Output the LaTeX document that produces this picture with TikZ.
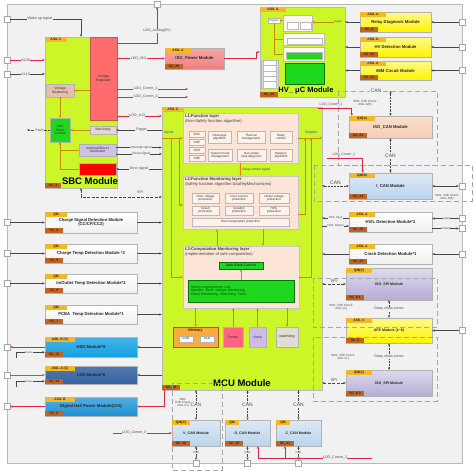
\documentclass[tikz,border=0pt]{standalone}
\usepackage{fontspec}
\setmainfont{Liberation Sans}
\usetikzlibrary{arrows.meta,calc}
\definecolor{lime}{RGB}{204,246,40}
\definecolor{asilc}{RGB}{242,184,40}
\definecolor{scc}{RGB}{196,98,32}
\definecolor{bgc}{RGB}{241,241,241}
\definecolor{framec}{RGB}{185,185,185}
\definecolor{peach}{RGB}{248,203,178}
\definecolor{lpeach}{RGB}{252,229,214}
\definecolor{lav}{RGB}{182,172,214}
\definecolor{lblue}{RGB}{186,212,236}
\definecolor{ylw}{RGB}{255,243,0}
\definecolor{hsdc}{RGB}{22,160,226}
\definecolor{lsdc}{RGB}{52,98,160}
\definecolor{digc}{RGB}{28,146,214}
\definecolor{ldoc}{RGB}{222,38,64}
\definecolor{orgc}{RGB}{204,136,0}
\definecolor{grnc}{RGB}{30,215,30}
\definecolor{vregc}{RGB}{255,108,108}
\definecolor{vmonc}{RGB}{232,190,172}
\definecolor{wdgc}{RGB}{228,214,214}
\definecolor{irgc}{RGB}{204,194,232}
\definecolor{txtb}{RGB}{70,60,160}
\definecolor{isopc}{RGB}{240,128,128}
\definecolor{memc}{RGB}{247,172,60}
\definecolor{pwrc}{RGB}{255,100,128}
\definecolor{clkc}{RGB}{204,186,232}
\definecolor{wdmc}{RGB}{222,222,212}
\newcommand\myfs[1]{\fontsize{#1}{#1}\selectfont}
\newcommand\bx[7]{\node[#6,minimum width={(#4)-(#2)},minimum height={(#5)-(#3)}] (#1) at ({((#2)+(#4))/2},{((#3)+(#5))/2}) {#7};}
\newcommand\asl[3][26]{\node[asl,minimum width=#1,anchor=north west] (#2a) at (#2.north west) {#3};}
\newcommand\scl[3][18]{\node[scl,minimum width=#1,anchor=south west] (#2s) at (#2.south west) {#3};}
\tikzset{
  asl/.style={fill=asilc,inner sep=0pt,minimum height=4.6,font=\myfs{3.4}\bfseries,text=black!85},
  scl/.style={fill=scc,inner sep=0pt,minimum height=4.6,font=\myfs{3.4}\bfseries,text=black!85},
  grp/.style={fill=lime,draw=gray!55,line width=0.4},
  modw/.style={draw=gray!60,top color=white,bottom color=gray!12,inner sep=0.3pt,align=center,font=\myfs{4.2}\bfseries,text=black!85},
  mody/.style={modw,draw=gray!60,top color=ylw!45!white,bottom color=ylw},
  modp/.style={modw,top color=isopc!70!white,bottom color=isopc},
  modpe/.style={modw,top color=peach!60!white,bottom color=peach},
  modb/.style={modw,top color=lblue!50!white,bottom color=lblue},
  modl/.style={modw,top color=lav!45!white,bottom color=lav},
  modhsd/.style={modw,top color=hsdc!80!white,bottom color=hsdc},
  modlsd/.style={modw,top color=lsdc!85!white,bottom color=lsdc},
  moddig/.style={modw,top color=digc!75!white,bottom color=digc},
  sb/.style={draw=gray!60,inner sep=0pt,align=center,font=\myfs{3.4},text=black!80},
  lay/.style={fill=lpeach,draw=gray!45,line width=0.4},
  laytitle/.style={font=\myfs{4.1},align=left,inner sep=0pt,text=black!75},
  ib/.style={draw=gray!55,fill=lpeach!50!white,inner sep=0pt,align=center,font=\myfs{3.1},text=black!80},
  hvb/.style={draw=gray!55,fill=white!75!lpeach,line width=0.3},
  hvw/.style={draw=gray!55,fill=white,line width=0.3},
  hvl/.style={draw=orgc,line width=0.35},
  sq/.style={draw=gray!70,fill=white,minimum size=6,inner sep=0pt},
  arr/.style={-{Stealth[length=2.6,width=2.2]},draw=black!72,line width=0.45},
  darr/.style={{Stealth[length=2.6,width=2.2]}-{Stealth[length=2.6,width=2.2]},draw=black!72,line width=0.45},
  rarr/.style={arr,draw=ldoc,line width=0.65},
  oarr/.style={arr,draw=orgc,line width=0.6},
  can/.style={darr,densely dotted},
  spil/.style={darr,dash pattern=on 3pt off 1.5pt},
  dgrp/.style={draw=gray!70,dash pattern=on 5pt off 3pt,line width=0.6},
  lbl/.style={font=\myfs{3.6},text=black!70,fill=bgc,inner sep=0.4pt,align=center},
  canl/.style={lbl,font=\myfs{5}},
}
\begin{document}
\begin{tikzpicture}[x=1pt,y=-1pt]
\useasboundingbox (0,0) rectangle (474,471);
\fill[white] (0,0) rectangle (474,471);
\draw[framec,fill=bgc,line width=0.8] (7,4) rectangle (462,463);

% ---------------- SBC ----------------
\bx{sbc}{45}{37}{117}{188}{grp}{}
\bx{vreg}{90}{37}{117}{120}{sb,fill=vregc,draw=vregc!80!black}{Voltage\\Regulator}
\bx{vmon}{46}{84}{74}{97}{sb,fill=vmonc}{Voltage\\Monitoring}
\bx{sscs}{50}{118}{70}{142}{sb,fill=grnc}{Safe\\State\\Control}
\bx{wdgs}{90}{126}{116}{134}{sb,fill=wdgc}{Watchdog}
\bx{irg}{79}{144}{116}{156}{sb,fill=irgc}{Interrupt/Reset\\Generator}
\bx{errs}{79}{163}{116}{175}{sb,fill=red}{}
\node[font=\myfs{9.5}\bfseries,inner sep=0] (sbct) at (90,181) {SBC Module};
\asl[22]{sbc}{ASIL C}
\scl[16]{sbc}{SC\_1}

% ---------------- HV uC ----------------
\bx{hv}{260}{7}{345}{97}{grp}{}
\asl{hv}{ASIL A}
\scl{hv}{SC\_30}
\node[font=\myfs{7.5}\bfseries,inner sep=0] (hvt) at (306,91) {HV\_ μC Module};
\bx{hvo}{268}{18}{280}{23}{sb,fill=white,font=\myfs{2.6}}{Outputs}
\bx{hg1}{283}{15}{312}{31}{hvb}{}
\bx{hg1a}{287}{22}{298}{29}{hvw}{}
\bx{hg1b}{300}{22}{311}{29}{hvw}{}
\bx{hg2}{283}{33}{324}{45}{hvb}{}
\bx{hg2a}{287}{38}{322}{44}{hvw}{}
\bx{hg3}{283}{47}{324}{61}{hvb}{}
\bx{hg3a}{286}{53}{322}{58}{hvw,fill=grnc}{}
\bx{hg4}{285}{63}{324}{84}{hvw,fill=grnc,draw=green!45!black}{}
\bx{hl}{261}{60}{278}{88}{hvw,fill=gray!25}{}
\foreach \i in {0,1,2,3,4}{
  \bx{hl\i}{263}{61.5+5.3*\i}{276}{65.5+5.3*\i}{hvw}{}
}
\draw[hvl] (hvo.east) -- (hvo.east -| hg1.west);
\draw[hvl] (hvo.south) |- (hg2.west);
\draw[hvl] (hvo.south) |- (hg3.west);
\node[font=\myfs{2.8},text=txtb,inner sep=0] (hvin) at (338,22) {Inputs};
\draw[arr,line width=0.3,draw=orgc] (hvin.west) -- (hvin.west -| hg1.east);

% ---------------- right yellow modules ----------------
\bx{relay}{360}{12}{431}{32}{mody}{Relay Diagnosis Module}
\asl{relay}{ASIL A}\scl{relay}{SC\_2}
\bx{hvd}{360}{37}{431}{57}{mody}{HV Detection Module}
\asl{hvd}{ASIL A}\scl{hvd}{SC\_20}
\bx{imm}{360}{61}{431}{80}{mody}{IMM Circuit Module}
\asl{imm}{ASIL A}\scl{imm}{SC\_21}
\node[sq] (sqr1) at (462,22) {};
\node[sq] (sqr2) at (462,47) {};
\node[sq] (sqr3) at (462,70.5) {};
\foreach \m/\s in {relay/sqr1,hvd/sqr2,imm/sqr3}{
  \draw[arr] (\s.west) -- (\m.east);
  \draw[arr] (\m.west) -- (\m.west -| hv.east);
}

% ---------------- ISO power ----------------
\bx{isop}{165}{48}{224}{69}{modp}{ISO\_Power Module}
\asl{isop}{ASIL A}\scl{isop}{SC\_28}

% ---------------- MCU ----------------
\bx{mcu}{162}{107}{322}{390}{grp}{}
\asl[22]{mcu}{ASIL C}
\scl{mcu}{SC\_19}
\node[font=\myfs{9.5}\bfseries,inner sep=0] (mcut) at (242,383) {MCU Module};

\bx{l1}{183}{113}{298}{163}{lay}{}
\node[laytitle,anchor=north west] (l1t) at ($(l1.north west)+(2,2)$) {\textbf{L1:Function layer}\\(Non-Safety function algorithm)};
\bx{soc}{189}{131}{205}{137}{ib}{SOC}
\bx{sop}{189}{139}{205}{145}{ib}{SOP}
\bx{soh}{189}{147}{205}{153}{ib}{SOH}
\bx{soe}{189}{155}{205}{161}{ib}{SOE}
\bx{dis}{208}{131}{231}{143}{ib}{Discharge\\algorithm}
\bx{thm}{237}{131}{265}{143}{ib}{Thermal\\management}
\bx{rly}{270}{131}{292}{143}{ib}{Relay\\control}
\bx{sys}{208}{149}{232}{161}{ib}{System mode\\management}
\bx{nsf}{237}{149}{266}{161}{ib}{Non safety\\fault diagnosis}
\bx{bal}{270}{149}{292}{161}{ib}{Balance\\algorithm}

\bx{l2}{183}{176}{298}{229}{lay}{}
\node[laytitle,anchor=north west] (l2t) at ($(l2.north west)+(2,2)$) {\textbf{L2:Function Monitoring layer}\\(Safety function algorithm \&SafetyMechanisms)};
\bx{ovp}{192}{193}{219}{203}{ib}{Over voltage\\protection}
\bx{ocp}{225}{193}{253}{203}{ib}{Over current\\protection}
\bx{uvp}{259}{193}{289}{203}{ib}{Under voltage\\protection}
\bx{crp}{192}{206}{219}{215}{ib}{Crash\\protection}
\bx{isp}{225}{206}{253}{215}{ib}{Isolation\\protection}
\bx{hvp}{259}{206}{289}{215}{ib}{HVIL\\protection}
\bx{otp}{192}{218}{289}{226}{ib}{Over temperature protection}
\draw[oarr] (l1.south) -- (l2.north) node[pos=0.5,right,font=\myfs{3.2},text=black!75,inner sep=1.5pt]{Relay control signal};

\bx{l3}{183}{246}{299}{308}{lay}{}
\node[laytitle,anchor=north west] (l3t) at ($(l3.north west)+(2,2)$) {\textbf{L3:Computation Monitoring layer}\\(Implementation of safe computation)};
\bx{sst}{219}{262}{263}{269}{sb,fill=grnc,draw=green!45!black,font=\myfs{3.5}\bfseries}{Safe State Control}
\bx{smu}{188}{280}{294}{302}{sb,fill=grnc,draw=green!45!black,align=left,text width=100,font=\myfs{3.6}}{Safety management unit:\\\textcolor{green!30!black}{Monitor: Error voltage Monitoring,}\\\textcolor{green!30!black}{Clock Monitoring, Watchdog Timer}}
\draw[oarr] (smu.north) -- (sst.south);
\draw[oarr] ($(l3.north west)+(34,0)$) -- ($(l2.south west)+(34,0)$);
\draw[oarr] ($(l2.south west)+(80,0)$) -- ($(l3.north west)+(80,0)$);

\bx{mem}{173}{327}{218}{347}{sb,fill=memc,draw=orange!70!black}{}
\node[font=\myfs{4},anchor=north,inner sep=0] (memt) at ($(mem.north)+(0,2)$) {Memory};
\bx{rom}{179}{336}{193}{342}{sb,fill=white,font=\myfs{2.8}}{ROM}
\bx{ram}{200}{336}{214}{342}{sb,fill=white,font=\myfs{2.8}}{RAM}
\bx{pwr}{223}{327}{243}{347}{sb,fill=pwrc,font=\myfs{3.6}}{Power}
\bx{clk}{249}{327}{266}{347}{sb,fill=clkc,font=\myfs{3.6}}{clock}
\bx{wdm}{276}{327}{298}{347}{sb,fill=wdmc,font=\myfs{3.6}}{watchdog}
\draw[oarr] (mem.north |- l3.south) -- (mem.north);
\draw[oarr] (pwr.north) -- (pwr.north |- l3.south);
\draw[oarr] (clk.north) -- (clk.north |- l3.south);
\draw[oarr] (wdm.north |- l3.south) -- (wdm.north);

\node[font=\myfs{3.4},text=txtb,inner sep=0] (inl) at (169,133) {Inputs};
\coordinate (in0) at (162,138);
\coordinate (inb1) at (179,138);
\coordinate (inb2) at (171,138);
\draw[oarr] (in0) -- (in0 -| l1.west);
\draw[oarr] (inb1) |- ($(l2.west)+(0,2.5)$);
\draw[oarr] (inb2) |- (l3.west);
\node[font=\myfs{3.4},text=txtb,inner sep=0] (outl) at (311,133) {Outputs};
\coordinate (ou0) at (298,138);
\coordinate (ob1) at (305,138);
\coordinate (ob2) at (311,138);
\draw[oarr] (ou0) -- (ou0 -| mcu.east);
\draw[oarr] ($(l2.east)+(0,12)$) -| (ob1);
\draw[oarr] (l3.east) -| (ob2);

% ---------------- right CAN / detection modules ----------------
\bx{isocan}{349}{116}{432}{138}{modpe}{ISO\_CAN Module}
\asl{isocan}{QM(A)}\scl{isocan}{SC\_23}
\bx{ican}{349}{173}{432}{199}{modb}{I\_CAN Module}
\asl{ican}{QM(B)}\scl{ican}{SC\_24}
\bx{hvil}{349}{212}{432}{232}{modw}{HVIL Detection Module*2}
\asl{hvil}{ASIL A}\scl{hvil}{SC\_25}
\bx{crash}{349}{244}{432}{264}{modw}{Crash Detection Module*1}
\asl{crash}{ASIL A}\scl{crash}{SC\_27}
\bx{spia}{346}{268}{432}{300}{modl,font=\myfs{3.6}\bfseries}{ISO\_SPI Module}
\asl{spia}{QM(C)}\scl{spia}{SC\_8.1}
\bx{afe}{346}{318}{432}{343}{mody,font=\myfs{3.6}\bfseries}{AFE Module (1\textasciitilde 6)}
\asl{afe}{ASIL C}\scl{afe}{SC\_9}
\bx{spib}{346}{370}{432}{396}{modl,font=\myfs{3.6}\bfseries}{ISO\_SPI Module}
\asl{spib}{QM(C)}\scl{spib}{SC\_8.2}

\draw[dgrp] (338,91) rectangle (437,165);
\draw[dgrp] (314,165) rectangle (472,201);
\draw[dgrp] (313,278) rectangle (437,327);
\draw[dgrp] (313,337) rectangle (437,401);
\draw[dgrp] (172,383) rectangle (222,470);

\coordinate (cant) at (390.5,91);
\node[canl] (canl1) at (376,91) {CAN};
\draw[can] (cant) -- (isocan.north);
\draw[can] (isocan.south) -- (ican.north) node[canl,midway]{CAN};
\draw[can] (ican.west) -- (ican.west -| mcu.east) node[canl,pos=0.5,above=0.6pt,fill=none]{CAN};
\node[sq] (sqic) at (462,186) {};
\draw[darr] (ican.east) -- (sqic.west);
\node[lbl,font=\myfs{3},fill=none] (icnote) at (447,197) {SM1: E2E Check\\ASIL A(B)};
\node[lbl,font=\myfs{3},fill=none] (isnote) at (365,103) {SM1: E2E Check\\ASIL A(B)};

\coordinate (c1a) at (318,108);
\draw[rarr] (c1a) -| ($(isocan.north west)+(3,0)$);
\node[lbl,fill=none,font=\myfs{3.4}] (c1al) at (331,104.5) {LDO\_Comm\_1};
\coordinate (c1b) at (327,158);
\draw[rarr] (c1b) -| ($(ican.north west)+(14,0)$);
\node[lbl,fill=none,font=\myfs{3.4}] (c1bl) at (344,154.5) {LDO\_Comm\_1};

\coordinate (hvi) at (349,218);
\coordinate (hvo2) at (349,226);
\draw[arr] (hvi) -- (hvi -| mcu.east) node[lbl,pos=0.5,font=\myfs{2.9}]{HVIL Input};
\draw[arr] (hvo2 -| mcu.east) -- (hvo2) node[lbl,pos=0.5,font=\myfs{2.9}]{HVIL Output};
\node[sq] (sqhi) at (462,218.5) {};
\node[sq] (sqho) at (462,228.5) {};
\draw[arr] (sqhi.west) -- (sqhi.west -| hvil.east) node[lbl,pos=0.45,font=\myfs{2.9}]{Input};
\draw[arr] (sqho.west -| hvil.east) -- (sqho.west) node[lbl,pos=0.5,font=\myfs{2.9}]{Output};

\node[sq] (sqcr) at (462,254) {};
\draw[arr] (sqcr.west) -- (crash.east);
\draw[arr] (crash.west) -- (crash.west -| mcu.east);

\draw[spil] (spia.west) -- (spia.west -| mcu.east) node[canl,pos=0.5,above=0.6pt,fill=none,font=\myfs{4}]{SPI};
\node[lbl,font=\myfs{3},fill=none] (n1) at (341,307) {SM1: E2E Check\\ASIL (C)};
\draw[can] (spia.south) -- (afe.north) node[lbl,midway]{Daisy chain comm};
\node[sq] (sqafe) at (462,330.5) {};
\draw[arr] (sqafe.west) -- (afe.east);
\node[lbl,font=\myfs{3},fill=none] (n2) at (343,357) {SM1: E2E Check\\ASIL (C)};
\draw[can] (afe.south) -- (spib.north) node[lbl,midway]{Daisy chain comm};
\draw[spil] (spib.west) -- (spib.west -| mcu.east) node[canl,pos=0.5,above=0.6pt,fill=none,font=\myfs{4}]{SPI};

% ---------------- left modules ----------------
\bx{chs}{45}{212}{137}{233}{modw}{Charge Signal Detection Module\\(CC/CP/CC2)}
\asl[22]{chs}{QM}\scl{chs}{SC\_4}
\bx{cht}{45}{244}{137}{263}{modw}{Charge Temp Detection Module *2}
\asl[22]{cht}{QM}\scl{cht}{SC\_5}
\bx{iot}{45}{274}{137}{293}{modw}{In/Outlet Temp Detection Module*2}
\asl[22]{iot}{QM}\scl{iot}{SC\_6}
\bx{pcb}{45}{305}{137}{324}{modw}{PCBA\ \ Temp Detection Module*1}
\asl[22]{pcb}{QM}\scl{pcb}{SC\_7}
\bx{hsd}{45}{337}{137}{357}{modhsd}{HSD Module*8}
\asl[30]{hsd}{ASIL B (C)}\scl{hsd}{SC\_13}
\bx{lsd}{45}{366}{137}{384}{modlsd}{LSD Module*8}
\asl[30]{lsd}{ASIL A (C)}\scl{lsd}{SC\_14}
\bx{dig}{45}{397}{137}{416}{moddig}{Digital Hall Power Module(12V)}
\asl[30]{dig}{ASIL B}\scl{dig}{SC\_8}

\node[sq] (sqcs) at (7,222.5) {};
\node[sq] (sqct) at (7,253.5) {};
\node[sq] (sqio) at (7,283.5) {};
\foreach \s/\m in {sqcs/chs,sqct/cht,sqio/iot}{\draw[arr] (\s.east) -- (\m.west);}
\foreach \m in {chs,cht,iot,pcb}{\draw[arr] (\m.east) -- (\m.east -| mcu.west);}
\node[sq] (sqhs) at (7,347) {};
\draw[rarr] (hsd.west) -- (sqhs.east);
\draw[arr] (hsd.east -| mcu.west) -- (hsd.east);
\coordinate (hsl) at (16,358);
\draw[arr] (hsl) |- ($(hsd.south west)+(0,-5)$) node[lbl,pos=0.72,font=\myfs{2.6}]{Status};
\node[sq] (sqls) at (7,375) {};
\draw[arr,draw=black!55] (sqls.east) -- (lsd.west);
\draw[arr] (lsd.east -| mcu.west) -- (lsd.east);
\coordinate (lsl) at (16,387);
\draw[arr] (lsl) |- ($(lsd.south west)+(0,-3)$) node[lbl,pos=0.72,font=\myfs{2.6}]{Status};
\node[sq] (sqdg) at (7,406.5) {};
\draw[rarr] (dig.west) -- (sqdg.east);
\coordinate (mr) at (164,390);
\draw[rarr] (mr) |- (dig.east);

% ---------------- SBC signals ----------------
\node[sq] (sqw) at (7,19) {};
\node[sq] (sq30) at (7,60) {};
\node[sq] (sq15) at (7,74) {};
\draw[arr] (sqw.east) -| (sbc.north) node[lbl,pos=0.21]{Wake up signal};
\draw[rarr] (sq30.east) -- (sq30.east -| sbc.west) node[lbl,pos=0.45]{KL30};
\draw[arr] (sq15.east) -- (sq15.east -| sbc.west) node[lbl,pos=0.45]{KL15};

\node[sq] (sqan) at (157,4) {};
\coordinate (an0) at (117,43);
\draw[rarr] (an0) -| (sqan.south);
\node[lbl] (anl) at (157,31) {LDO\_Analog(5V)};
\draw[rarr] (isop.west -| vreg.east) -- (isop.west) node[lbl,pos=0.45]{LDO\_ISO};
\coordinate (c1e) at (188,89);
\coordinate (c2e) at (188,97);
\draw[rarr] (c1e -| vreg.east) -- (c1e) node[lbl,pos=0.4]{LDO\_Comm\_1};
\draw[rarr] (c2e -| vreg.east) -- (c2e) node[lbl,pos=0.4]{LDO\_Comm\_2};
\coordinate (ad) at (117,116);
\draw[rarr] (ad) -- (ad -| mcu.west) node[lbl,pos=0.45]{LDO\_A-D};
\draw[arr] (wdgs.east -| mcu.west) -- (wdgs.east) node[lbl,pos=0.45]{Trigger};
\coordinate (irq) at (116,147.5);
\coordinate (rst) at (116,154);
\draw[arr] (irq) -- (irq -| mcu.west) node[lbl,pos=0.55,font=\myfs{3.2}]{Interrupt signal};
\draw[arr] (rst) -- (rst -| mcu.west) node[lbl,pos=0.55,font=\myfs{3.2}]{Reset signal};
\draw[arr] (errs.east -| mcu.west) -- (errs.east) node[lbl,pos=0.5]{Error signal};
\coordinate (flt) at (27,130);
\draw[arr,densely dotted] (sscs.west) -- (sscs.west -| flt) node[lbl,pos=0.45]{Fault};
\coordinate (spis) at (81,197);
\draw[spil] (sbc.south) -- (spis) -- (spis -| mcu.west);
\node[lbl] (spil1) at (140,192.5) {SPI};
\draw[oarr] (vmon.east -| vreg.west) -- (vmon.east);
\draw[oarr] (vmon.south) -- (sscs.north);
\draw[oarr] (wdgs.west) -- (wdgs.west -| sscs.east);
\draw[oarr] (irg.west) -| (sscs.south);
\draw[oarr] (errs.west) -| (sscs.south);

\coordinate (ih) at (256,59);
\draw[rarr] (isop.east) -- (isop.east -| ih) |- (hv.west);

% ---------------- bottom CAN ----------------
\bx{vcan}{172}{420}{220}{446}{modb,font=\myfs{3.6}\bfseries}{V\_CAN Module}
\asl[18]{vcan}{QM(C)}\scl{vcan}{SC\_16}
\bx{dcan}{225}{420}{270}{446}{modb,font=\myfs{3.6}\bfseries}{D\_CAN Module}
\asl[14]{dcan}{QM}\scl{dcan}{SC\_15}
\bx{ccan}{276}{420}{321}{446}{modb,font=\myfs{3.6}\bfseries}{C\_CAN Module}
\asl[14]{ccan}{QM}\scl{ccan}{SC\_17}
\foreach \m in {vcan,dcan,ccan}{
  \draw[can] (\m.north |- mcu.south) -- (\m.north) node[canl,midway,fill=bgc]{CAN};
}
\node[sq] (sqv) at (196,463) {};
\node[sq] (sqd) at (247.5,463) {};
\node[sq] (sqc) at (298.5,463) {};
\foreach \m/\s in {vcan/sqv,dcan/sqd,ccan/sqc}{
  \draw[can] (\m.south) -- (\s.north) node[lbl,midway,font=\myfs{2.8}]{CAN};
}
\node[lbl,font=\myfs{3},fill=none] (vnote) at (183,403) {SM1:\\E2E Check\\ASIL (C)};
\coordinate (c3) at (113,433);
\draw[rarr] (c3) -- (vcan.west) node[lbl,pos=0.36]{LDO\_Comm\_3};
\coordinate (c2b) at (372,458);
\coordinate (cc2) at (285,458);
\draw[rarr] (c2b) -| ($(dcan.south)+(10.5,0)$);
\draw[rarr] (cc2) -- (cc2 |- ccan.south);
\node[lbl] (c2bl) at (335,458) {LDO\_Comm\_2};
\end{tikzpicture}
\end{document}
